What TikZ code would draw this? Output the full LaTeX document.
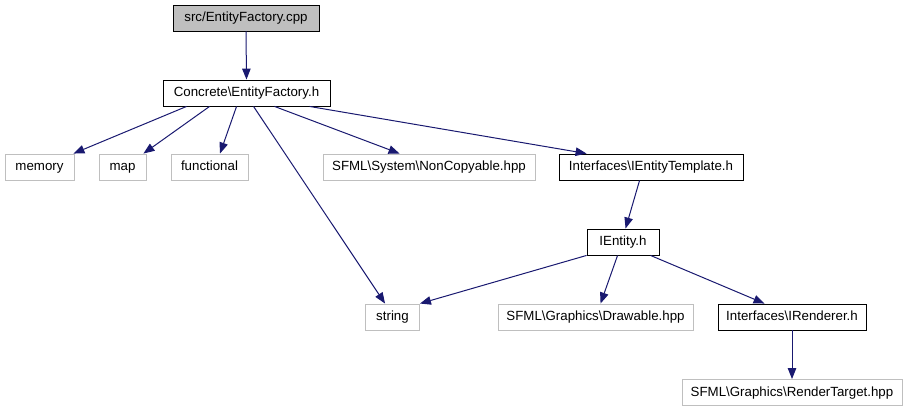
\documentclass[tikz,border=0pt]{standalone}
\usepackage{fontspec}
\setmainfont{Liberation Sans}
\usetikzlibrary{arrows.meta}
\definecolor{edgec}{HTML}{191970}
\definecolor{grayb}{HTML}{BFBFBF}
\begin{document}
\begin{tikzpicture}[x=1pt,y=-1pt,
 box/.style={draw=black, line width=0.9pt, minimum height=26pt, inner sep=0pt, text height=9.6pt, text depth=2.6pt, font=\fontsize{13.3}{16}\selectfont, anchor=center},
 ext/.style={box, draw=grayb},
 dep/.style={draw=edgec, line width=1pt, -{Triangle[length=11pt,width=8.5pt]}}]
\useasboundingbox (0,0) rectangle (907,411);
\node[box, fill=grayb, minimum width=146pt] (top) at (246,18) {src/EntityFactory.cpp};
\node[box, minimum width=167pt] (concrete) at (246.5,93) {Concrete\textbackslash EntityFactory.h};
\node[ext, minimum width=69pt] (memory) at (39.5,167) {memory};
\node[ext, minimum width=47pt] (map) at (122.5,167) {map};
\node[ext, minimum width=77pt] (functional) at (209.5,167) {functional};
\node[ext, minimum width=212pt] (noncopy) at (429,167) {SFML\textbackslash System\textbackslash NonCopyable.hpp};
\node[box, minimum width=184pt] (itemplate) at (651,167) {Interfaces\textbackslash IEntityTemplate.h};
\node[box, minimum width=72pt] (ientity) at (623,242) {IEntity.h};
\node[ext, minimum width=54pt] (string) at (392.5,317) {string};
\node[ext, minimum width=195pt] (drawable) at (595.5,317) {SFML\textbackslash Graphics\textbackslash Drawable.hpp};
\node[box, minimum width=148pt] (irenderer) at (792,317) {Interfaces\textbackslash IRenderer.h};
\node[ext, minimum width=220pt] (rtarget) at (792,392.5) {SFML\textbackslash Graphics\textbackslash RenderTarget.hpp};

\draw[dep] (top.south) -- (concrete.north);
\draw[dep] ([xshift=24pt]concrete.south west) -- ([xshift=-1pt]memory.north east);
\draw[dep] ([xshift=47pt]concrete.south west) -- ([xshift=-3pt]map.north east);
\draw[dep] ([xshift=74pt]concrete.south west) -- ([xshift=10.5pt]functional.north);
\draw[dep] ([xshift=91pt]concrete.south west) -- ([xshift=20pt]string.north west);
\draw[dep] ([xshift=112pt]concrete.south west) -- ([xshift=77pt]noncopy.north west);
\draw[dep] ([xshift=147pt]concrete.south west) -- ([xshift=28pt]itemplate.north west);
\draw[dep] ([xshift=81pt]itemplate.south west) -- ([xshift=39pt]ientity.north west);
\draw[dep] (ientity.south west) -- (string.north east);
\draw[dep] ([xshift=31pt]ientity.south west) -- ([xshift=103pt]drawable.north west);
\draw[dep] ([xshift=64pt]ientity.south west) -- ([xshift=47pt]irenderer.north west);
\draw[dep] (irenderer.south) -- (rtarget.north);
\end{tikzpicture}
\end{document}
